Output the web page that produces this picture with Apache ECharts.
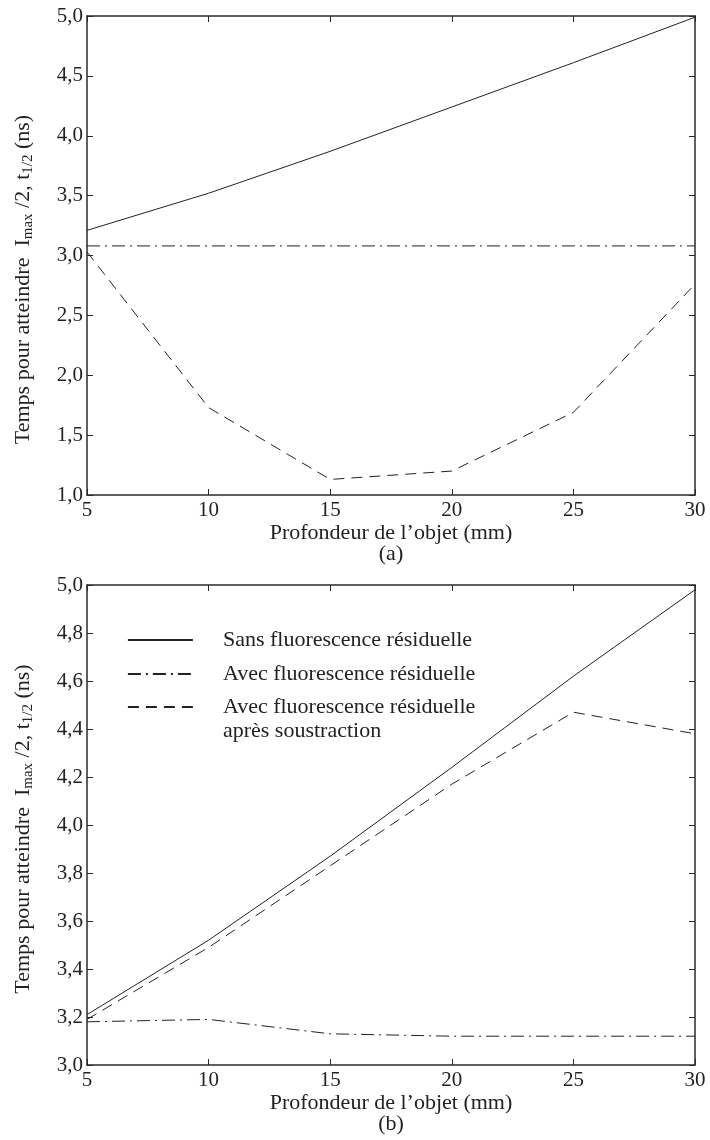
<!DOCTYPE html>
<html>
<head>
<meta charset="utf-8">
<script src="https://cdn.jsdelivr.net/npm/echarts@6/dist/echarts.min.js"></script>
<style>
html,body{margin:0;padding:0;background:#fff;}
#c{width:710px;height:1140px;}
</style>
</head>
<body>
<div id="c"></div>
<script>
// ---- data ----
const depths = [5, 10, 15, 20, 25, 30];
// panel (a)
const aSans = [3.21, 3.52, 3.87, 4.24, 4.61, 4.99];
const aAvec = [3.08, 3.08, 3.08, 3.08, 3.08, 3.08];
const aSoustr = [3.03, 1.73, 1.13, 1.20, 1.69, 2.76];
// panel (b)
const bSans = [3.21, 3.52, 3.87, 4.24, 4.62, 4.98];
const bAvec = [3.18, 3.19, 3.13, 3.12, 3.12, 3.12];
const bSoustr = [3.19, 3.49, 3.83, 4.17, 4.47, 4.38];

const nameSans = 'Sans fluorescence résiduelle';
const nameAvec = 'Avec fluorescence résiduelle';
const nameSoustr = 'Avec fluorescence résiduelle\naprès soustraction';
const xName = 'Profondeur de l\u2019objet (mm)';
const yName = 'Temps pour atteindre  I{sub|max} /2, t{sub|1/2} (ns)';

const FONT = '"Liberation Serif", "DejaVu Serif", serif';
const INK = '#222';
const AX = '#2a2a2a';

function pairs(ys){ return depths.map((x,i)=>[x, ys[i]]); }
function fmt(v){ return v.toFixed(1).replace('.', ','); }

function xAxes(grid, label){
  return [
    {gridIndex:grid, type:'value', min:5, max:30, interval:5, position:'bottom',
     axisLine:{show:true, onZero:false, lineStyle:{color:AX, width:1.5}},
     axisTick:{show:true, inside:true, length:6, lineStyle:{color:AX, width:1}},
     axisLabel:{show:true, color:INK, fontFamily:FONT, fontSize:21, margin:5},
     splitLine:{show:false},
     name: xName + '\n' + label, nameLocation:'middle', nameGap:27,
     nameTextStyle:{color:INK, fontFamily:FONT, fontSize:22, lineHeight:21}},
    {gridIndex:grid, type:'value', min:5, max:30, interval:5, position:'top',
     axisLine:{show:true, onZero:false, lineStyle:{color:AX, width:1.5}},
     axisTick:{show:true, inside:true, length:6, lineStyle:{color:AX, width:1}},
     axisLabel:{show:false}, splitLine:{show:false}}
  ];
}
function yAxes(grid, min, max, interval, namePad){
  return [
    {gridIndex:grid, type:'value', min:min, max:max, interval:interval, position:'left',
     axisLine:{show:true, onZero:false, lineStyle:{color:AX, width:1.5}},
     axisTick:{show:true, inside:true, length:6, lineStyle:{color:AX, width:1}},
     axisLabel:{show:true, color:INK, fontFamily:FONT, fontSize:21, margin:4, formatter:fmt},
     splitLine:{show:false},
     name: yName, nameLocation:'middle', nameGap:51,
     nameTextStyle:{color:INK, fontFamily:FONT, fontSize:22, lineHeight:26, padding:namePad,
       rich:{sub:{fontFamily:FONT, fontSize:15, color:INK, lineHeight:15, verticalAlign:'bottom'}}}},
    {gridIndex:grid, type:'value', min:min, max:max, interval:interval, position:'right',
     axisLine:{show:true, onZero:false, lineStyle:{color:AX, width:1.5}},
     axisTick:{show:true, inside:true, length:6, lineStyle:{color:AX, width:1}},
     axisLabel:{show:false}, splitLine:{show:false}}
  ];
}

const solid = {color:INK, width:1, type:'solid'};
const dashdot = {color:INK, width:1, type:[13,5,2,5]};
const dashed = {color:INK, width:1, type:[11,7]};

function line(name, data, xi, yi, ls){
  return {type:'line', name:name, xAxisIndex:xi, yAxisIndex:yi, data:pairs(data),
    symbol:'none', showSymbol:false, silent:true, animation:false,
    lineStyle:ls, itemStyle:{color:INK}};
}

const legendText = {color:INK, fontFamily:FONT, fontSize:22, lineHeight:24, padding:[0,0,0,25]};
const legendItemStyle = {color:'rgba(0,0,0,0)', borderWidth:0, opacity:0};

const option = {
  animation:false,
  backgroundColor:'#fff',
  textStyle:{fontFamily:FONT},
  grid:[
    {left:87, right:15, top:16, height:479, containLabel:false},
    {left:87, right:15, top:585, height:480, containLabel:false}
  ],
  xAxis: xAxes(0,'(a)').concat(xAxes(1,'(b)')),
  yAxis: yAxes(0,1,5,0.5,[0,48,0,0]).concat(yAxes(1,3,5,0.2,[0,8,0,0])),
  legend:[
    {orient:'vertical', left:127, top:628, padding:0, itemGap:10, itemWidth:65, itemHeight:14,
     selectedMode:false, data:[nameSans, nameAvec],
     itemStyle:legendItemStyle, lineStyle:{width:1.8, opacity:1},
     textStyle:legendText},
    {orient:'vertical', left:127, top:671, padding:0, itemGap:10, itemWidth:65, itemHeight:14,
     selectedMode:false, data:[nameSoustr],
     formatter:function(n){ return ' \n' + n; },
     itemStyle:legendItemStyle, lineStyle:{width:1.8, opacity:1},
     textStyle:legendText}
  ],
  series:[
    line(nameSans, aSans, 0, 0, solid),
    line(nameAvec, aAvec, 0, 0, dashdot),
    line(nameSoustr, aSoustr, 0, 0, dashed),
    line(nameSans, bSans, 2, 2, solid),
    line(nameAvec, bAvec, 2, 2, dashdot),
    line(nameSoustr, bSoustr, 2, 2, dashed)
  ]
};

const chart = echarts.init(document.getElementById('c'), null, {renderer:'canvas'});
chart.setOption(option);
</script>
</body>
</html>
